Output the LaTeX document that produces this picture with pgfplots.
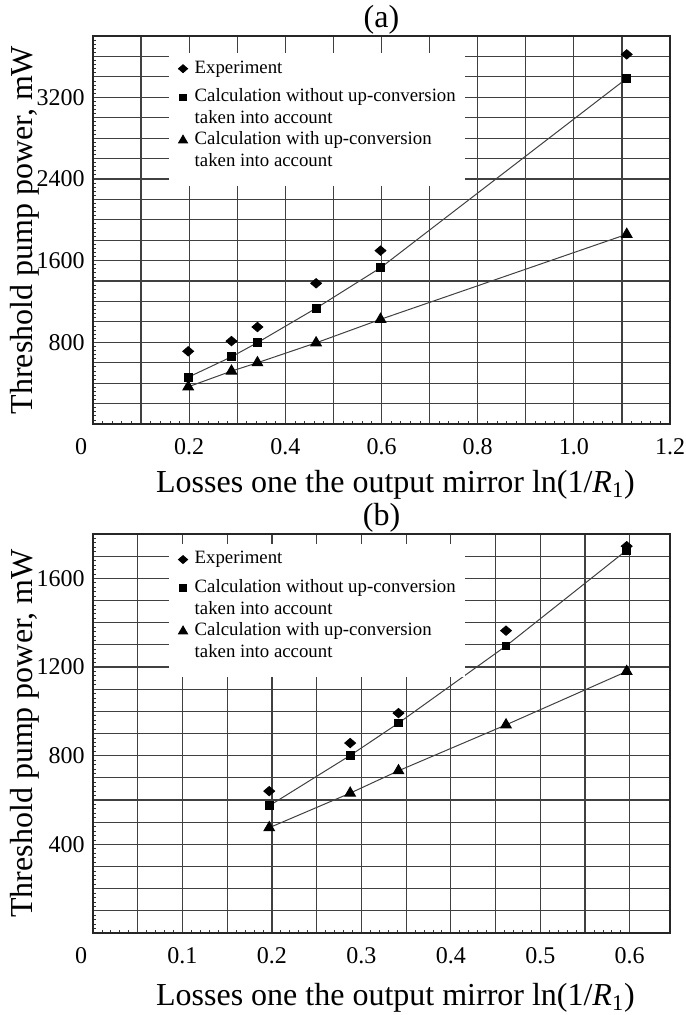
\documentclass[border=0pt]{standalone}
\usepackage{pgfplots}
\pgfplotsset{compat=1.18}
\usepackage{fontspec}
\setmainfont{Liberation Serif}

\pgfplotsset{
 common/.style={
  scale only axis,
  axis line style={line width=1.3pt, black!85},
  grid=major,
  major grid style={black!75, line width=0.6pt},
  xtick pos=bottom, ytick pos=left,
  major tick length=0pt,
  minor tick length=1.6pt,
  minor tick style={black!80, line width=0.4pt},
  minor x tick num=4, minor y tick num=4,
  tick label style={font=\fontsize{12}{14}\selectfont},
  xticklabel style={anchor=base, inner sep=0pt, yshift=-15pt},
  yticklabel style={anchor=east, inner sep=0pt, xshift=-4pt},
  extra x ticks={0}, extra x tick labels={0},
  extra x tick style={grid=none, xticklabel style={xshift=-6pt}},
  label style={font=\fontsize{16}{19}\selectfont},
  title style={font=\fontsize{16}{19}\selectfont, at={(0.5,1)}, anchor=base, yshift=-1.5pt},
  ylabel style={at={(0,0.5)}, anchor=base, yshift=30.3pt},
  ylabel={Threshold pump power, mW},
  xlabel={Losses one the output mirror ln(1/\textit{R}\textsubscript{1})},
  legend style={draw=none, fill=white, anchor=north west,
    inner xsep=4.5pt, inner ysep=3pt, row sep=0pt, column sep=3.5pt,
    font=\fontsize{9.4}{10.75}\selectfont,
    cells={anchor=base west},
    nodes={inner sep=0pt, text height=7.2pt, text depth=3.55pt}},
  legend image code/.code={\draw[#1, /tikz/every mark/.append style={scale=0.85}] plot coordinates {(0pt,2.2pt)};},
 },
 exp/.style={only marks, mark=diamond*, mark size=2.35pt, mark options={xscale=1.55, fill=black, draw=black}},
 sq/.style={black!75, line width=0.5pt, mark=square*, mark size=1.95pt, mark options={fill=black, draw=black, solid}},
 tri/.style={black!75, line width=0.5pt, mark=triangle*, mark size=3.0pt, mark options={fill=black, draw=black, solid}},
}

\begin{document}
\begin{tikzpicture}
\path[use as bounding box] (0,0) rectangle (342.5pt,-507.5pt);

\begin{axis}[common,
  at={(46.5pt,-212pt)}, anchor=south west,
  width=288.5pt, height=194pt,
  xmin=0, xmax=1.2, ymin=0, ymax=3800,
  xtick={0,0.1,0.2,0.3,0.4,0.5,0.6,0.7,0.8,0.9,1.0,1.1,1.2},
  xticklabels={,,0.2,,0.4,,0.6,,0.8,,1.0,,1.2},
  ytick={0,200,...,3800},
  yticklabels={,,,,800,,,,1600,,,,2400,,,,3200,,,},
  title={(a)},
  xlabel style={at={(0.5,0)}, anchor=base, yshift=-34pt, xshift=7pt},
  legend style={at={(0.1317,0.958)}},
]
\addplot[exp] coordinates {(0.198,712) (0.288,812) (0.342,950) (0.464,1378) (0.598,1698) (1.11,3620)};
\addlegendentry[text depth=7.15pt]{Experiment}
\addplot[sq] coordinates {(0.198,458) (0.288,658) (0.342,797) (0.464,1134) (0.598,1530) (1.11,3385)};
\addlegendentry{Calculation without up-conversion}
\addlegendimage{empty legend}
\addlegendentry{taken into account}
\addplot[tri] coordinates {(0.198,364) (0.288,518) (0.342,600) (0.464,795) (0.598,1025) (1.11,1858)};
\addlegendentry{Calculation with up-conversion}
\addlegendimage{empty legend}
\addlegendentry[text depth=6.8pt]{taken into account}
\end{axis}

\begin{axis}[common,
  at={(46.5pt,-466.5pt)}, anchor=south west,
  width=288.5pt, height=199.5pt,
  xmin=0, xmax=0.645, ymin=0, ymax=1800,
  xtick={0,0.05,0.1,0.15,0.2,0.25,0.3,0.35,0.4,0.45,0.5,0.55,0.6},
  xticklabels={,,0.1,,0.2,,0.3,,0.4,,0.5,,0.6},
  ytick={0,100,...,1800},
  yticklabels={,,,,400,,,,800,,,,1200,,,,1600,,},
  title={(b)},
  xlabel style={at={(0.5,0)}, anchor=base, yshift=-36pt, xshift=7pt},
  legend style={at={(0.1317,0.977)}},
]
\addplot[exp] coordinates {(0.197,640) (0.2875,857) (0.3415,992) (0.4617,1364) (0.5966,1745)};
\addlegendentry[text depth=7.15pt]{Experiment}
\addplot[sq] coordinates {(0.197,574) (0.2875,801) (0.3415,947) (0.4617,1295) (0.5966,1727)};
\addlegendentry{Calculation without up-conversion}
\addlegendimage{empty legend}
\addlegendentry{taken into account}
\addplot[tri] coordinates {(0.197,475) (0.2875,631) (0.3415,732) (0.4617,939) (0.5966,1180)};
\addlegendentry{Calculation with up-conversion}
\addlegendimage{empty legend}
\addlegendentry[text depth=6.8pt]{taken into account}
\end{axis}
\end{tikzpicture}
\end{document}
